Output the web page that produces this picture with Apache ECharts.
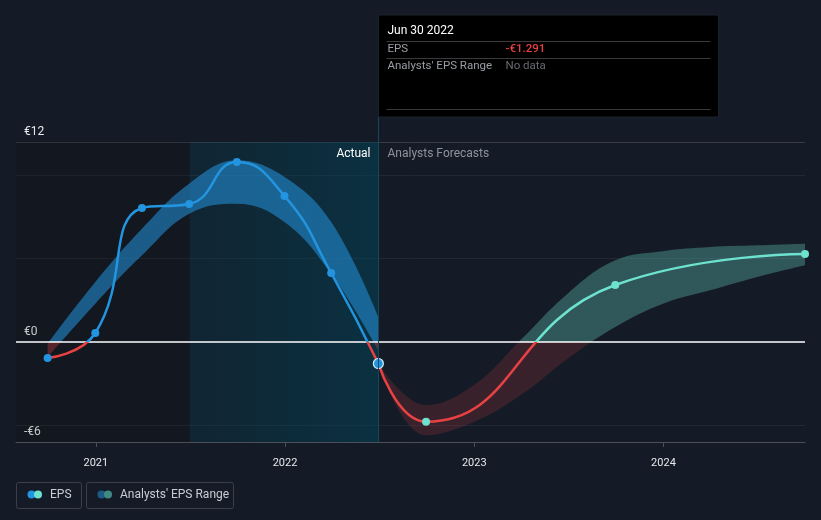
<!DOCTYPE html>
<html>
<head>
<meta charset="utf-8">
<script src="https://cdn.jsdelivr.net/npm/echarts@6/dist/echarts.min.js"></script>
<style>
html,body{margin:0;padding:0;background:#151b26;}
#c{width:821px;height:520px;}
</style>
</head>
<body>
<div id="c"></div>
<script>
// ---- data ----
const actualDates = ['2020-09-30','2020-12-31','2021-03-31','2021-06-30','2021-09-30','2021-12-31','2022-03-31','2022-06-30'];
const actualEps   = [-0.96, 0.54, 8.04, 8.28, 10.8, 8.76, 4.14, -1.291];
const actualLow   = [-0.9, 2.3, 5.2, 7.7, 8.3, 7.2, 4.1, -0.5];
const actualHigh  = [-0.1, 3.6, 6.8, 9.5, 10.9, 9.9, 7.2, 1.5];

const forecastDates = ['2022-06-30','2022-09-30','2023-09-30','2024-09-30'];
const forecastEps   = [-1.291, -4.78, 3.42, 5.28];

const rangeDates = ['2022-06-30','2022-09-30','2022-12-31','2023-03-31','2023-06-30','2023-09-30','2023-12-31','2024-03-31','2024-06-30','2024-09-30'];
const rangeHigh  = [-1.291, -3.8, -2.6, 0.1, 2.9, 4.9, 5.45, 5.7, 5.8, 5.9];
const rangeLow   = [-1.291, -5.6, -4.8, -3.2, -1.0, 0.9, 2.3, 3.1, 3.9, 4.6];

const xMin = '2020-07-31';
const xMax = '2024-09-30';
const pastEnd = '2021-07-01';
const cutDate = '2022-06-30';
const yMin = -6, yMax = 12;
const yLabelValues = [-6, 0, 12];
const yLabelTexts  = ['-€6', '€0', '€12'];
const gridLineValues = [-5, 5, 10];

const tipTitle = 'Jun 30 2022';
const tipRows = [['EPS', '-€1.291'], ["Analysts' EPS Range", 'No data']];
const legendNames = ['EPS', "Analysts' EPS Range"];

// ---- colours ----
const BLUE = '#2394df', RED = '#e84142', CYAN = '#6de2cf';

const ts = d => Date.parse(d);
const pairs = (ds, vs) => ds.map((d, i) => [ts(d), vs[i]]);
const diffs = (ds, hi, lo) => ds.map((d, i) => [ts(d), +(hi[i] - lo[i]).toFixed(4)]);
const signPieces = (neg, pos) => [{gte: -1000, lt: 0, color: neg}, {gte: 0, lte: 1000, color: pos}];

const splitColors = [];
for (let v = yMin; v <= yMax; v++) {
  if (v === yMin || v === yMax) splitColors.push('#363b45');
  else if (gridLineValues.indexOf(v) >= 0) splitColors.push('#222833');
  else splitColors.push('rgba(0,0,0,0)');
}

const chart = echarts.init(document.getElementById('c'), null, {renderer: 'canvas'});

const option = {
  animation: false,
  backgroundColor: '#151b26',
  textStyle: {fontFamily: 'Roboto, "Noto Sans", sans-serif'},
  grid: {left: 16, right: 16, top: 142, bottom: 78, containLabel: false},
  xAxis: {
    type: 'time', min: ts(xMin), max: ts(xMax),
    minInterval: 365 * 24 * 3600 * 1000,
    axisLine: {onZero: false, lineStyle: {color: '#4a4f58', width: 1}},
    axisTick: {show: true, length: 5, lineStyle: {color: '#4a4f58'}},
    axisLabel: {color: '#e6e8eb', fontSize: 11, margin: 16, formatter: '{yyyy}', showMinLabel: false, showMaxLabel: false},
    splitLine: {show: false}
  },
  yAxis: {
    type: 'value', min: yMin, max: yMax, interval: 1,
    axisLine: {show: false}, axisTick: {show: false},
    axisLabel: {
      inside: true, margin: 8, color: '#e6e8eb', fontSize: 12,
      verticalAlign: 'bottom', padding: [0, 0, 4, 0],
      formatter: v => { const i = yLabelValues.indexOf(v); return i >= 0 ? yLabelTexts[i] : ''; }
    },
    splitLine: {show: true, lineStyle: {color: splitColors, width: 1}}
  },
  visualMap: [
    {show: false, type: 'piecewise', seriesIndex: 1, dimension: 1,
     pieces: signPieces('rgba(232,65,66,0.32)', 'rgba(35,148,223,0.55)')},
    {show: false, type: 'piecewise', seriesIndex: 3, dimension: 1,
     pieces: signPieces('rgba(232,65,66,0.17)', 'rgba(109,226,207,0.3)')},
    {show: false, type: 'piecewise', seriesIndex: 4, dimension: 1,
     pieces: signPieces(RED, BLUE)},
    {show: false, type: 'piecewise', seriesIndex: 5, dimension: 1,
     pieces: signPieces(RED, CYAN)}
  ],
  series: [
    {type: 'line', name: 'actualLow', stack: 'ab', stackStrategy: 'all', smooth: 0.4, showSymbol: false, silent: true,
     lineStyle: {opacity: 0}, z: 2, data: pairs(actualDates, actualLow)},
    {type: 'line', name: 'actualRange', stack: 'ab', stackStrategy: 'all', smooth: 0.4, showSymbol: false, silent: true,
     lineStyle: {opacity: 0, width: 0}, areaStyle: {opacity: 1}, z: 2, data: diffs(actualDates, actualHigh, actualLow)},
    {type: 'line', name: 'rangeLow', stack: 'fb', stackStrategy: 'all', smooth: 0.4, showSymbol: false, silent: true,
     lineStyle: {opacity: 0}, z: 2, data: pairs(rangeDates, rangeLow)},
    {type: 'line', name: 'forecastRange', stack: 'fb', stackStrategy: 'all', smooth: 0.4, showSymbol: false, silent: true,
     lineStyle: {opacity: 0, width: 0}, areaStyle: {opacity: 1}, z: 2, data: diffs(rangeDates, rangeHigh, rangeLow),
     markLine: {silent: true, symbol: ['none', 'none'], label: {show: false}, z: 4,
       lineStyle: {color: '#ffffff', width: 1.5, type: 'solid'}, data: [{yAxis: 0}]}},
    {type: 'line', name: 'EPS', smooth: true, showSymbol: false, z: 6,
     lineStyle: {width: 2.5}, data: pairs(actualDates, actualEps),
     markArea: {silent: true, data: [
       [{xAxis: ts(xMin), itemStyle: {color: 'rgba(0,0,0,0.14)'}}, {xAxis: ts(pastEnd)}],
       [{xAxis: ts(pastEnd), itemStyle: {color: {type: 'linear', x: 0, y: 0, x2: 1, y2: 0,
          colorStops: [{offset: 0, color: 'rgba(0,70,92,0.22)'}, {offset: 1, color: 'rgba(0,70,92,0.5)'}]}}},
        {xAxis: ts(cutDate)}]
     ]}},
    {type: 'line', name: 'EPS forecast', smooth: true, showSymbol: false, z: 6,
     lineStyle: {width: 2.5}, data: pairs(forecastDates, forecastEps)},
    {type: 'scatter', name: 'EPS points', symbolSize: 8, z: 7, itemStyle: {color: BLUE, opacity: 1},
     data: pairs(actualDates, actualEps).map((p, i) => i === actualDates.length - 1
       ? {value: p, symbolSize: 10, itemStyle: {color: BLUE, borderColor: '#d8ecfa', borderWidth: 1.2}} : p)},
    {type: 'scatter', name: 'Forecast points', symbolSize: 8, z: 7, itemStyle: {color: CYAN, opacity: 1},
     data: pairs(forecastDates, forecastEps).slice(1)}
  ]
};
chart.setOption(option);

// ---- annotations positioned through the axis scale ----
const xc = Math.round(chart.convertToPixel({xAxisIndex: 0}, ts(cutDate))) + 0.5;
const gridBottom = 520 - 78;
const tipX = xc, tipY = 15, tipW = 340, tipH = 102;
const g = [];
g.push({type: 'line', silent: true, z: 8, shape: {x1: xc, y1: tipY + tipH, x2: xc, y2: gridBottom},
        style: {stroke: '#17485a', lineWidth: 1}});
g.push({type: 'text', z: 8, x: xc - 8, y: 154, style: {text: 'Actual', fill: '#ffffff', font: '12px Roboto, sans-serif', align: 'right', verticalAlign: 'middle'}});
g.push({type: 'text', z: 8, x: xc + 9, y: 154, style: {text: 'Analysts Forecasts', fill: '#8e939b', font: '12px Roboto, sans-serif', align: 'left', verticalAlign: 'middle'}});
// tooltip box
g.push({type: 'rect', z: 9, shape: {x: tipX, y: tipY, width: tipW, height: tipH}, style: {fill: '#000000', stroke: '#1c222c', lineWidth: 1}});
g.push({type: 'text', z: 10, x: tipX + 9, y: 31, style: {text: tipTitle, fill: '#ffffff', font: '12px Roboto, sans-serif', verticalAlign: 'middle'}});
[41, 58, 109].forEach(yy => g.push({type: 'line', z: 10, shape: {x1: tipX + 8, y1: yy + 0.5, x2: tipX + tipW - 8, y2: yy + 0.5}, style: {stroke: '#3a3a3a', lineWidth: 1}}));
g.push({type: 'text', z: 10, x: tipX + 9, y: 49.5, style: {text: tipRows[0][0], fill: '#9a9ea5', font: '11.5px Roboto, sans-serif', verticalAlign: 'middle'}});
g.push({type: 'text', z: 10, x: tipX + 127, y: 49.5, style: {text: tipRows[0][1], fill: '#e8413f', font: '500 11.5px Roboto, sans-serif', verticalAlign: 'middle'}});
g.push({type: 'text', z: 10, x: tipX + 9, y: 66.5, style: {text: tipRows[1][0], fill: '#9a9ea5', font: '11.5px Roboto, sans-serif', verticalAlign: 'middle'}});
g.push({type: 'text', z: 10, x: tipX + 127, y: 66.5, style: {text: tipRows[1][1], fill: '#676b72', font: '11.5px Roboto, sans-serif', verticalAlign: 'middle'}});
// legend
const legendBoxes = [{x: 16.5, w: 65, c1: BLUE, c2: CYAN, cx: 31.5, tx: 50},
                     {x: 86.5, w: 147, c1: '#1d5b86', c2: '#3f8a82', cx: 101.5, tx: 120}];
legendBoxes.forEach((b, i) => {
  g.push({type: 'rect', z: 10, shape: {x: b.x, y: 482.5, width: b.w, height: 26, r: 2}, style: {fill: 'none', stroke: '#3a3f48', lineWidth: 1}});
  g.push({type: 'circle', z: 10, shape: {cx: b.cx, cy: 494.5, r: 4}, style: {fill: b.c1}});
  g.push({type: 'circle', z: 11, shape: {cx: b.cx + 6.5, cy: 494.5, r: 4}, style: {fill: b.c2}});
  g.push({type: 'text', z: 10, x: b.tx, y: 495, style: {text: legendNames[i], fill: '#c9cdd3', font: '12px Roboto, sans-serif', verticalAlign: 'middle'}});
});
chart.setOption({graphic: {elements: g}});
</script>
</body>
</html>
